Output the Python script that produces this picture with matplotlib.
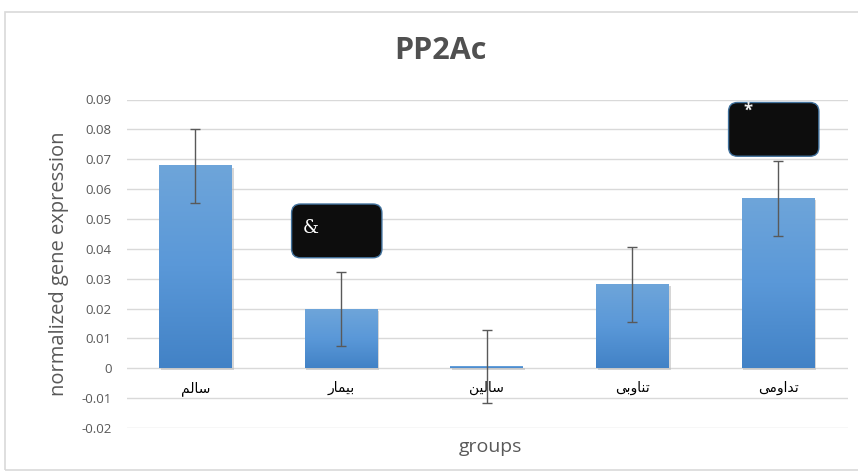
import matplotlib
matplotlib.use("Agg")
import matplotlib.pyplot as plt
import numpy as np
from matplotlib.patches import FancyBboxPatch, Rectangle
from matplotlib.colors import LinearSegmentedColormap

# ---- data ----
categories = ["سالم", "بیمار", "سالین", "تناوبی", "تداومی"]
values = [0.0678, 0.0197, 0.0006, 0.0281, 0.0569]
errors = [0.0123, 0.0124, 0.0122, 0.0125, 0.0125]
yticks = [-0.02, -0.01, 0, 0.01, 0.02, 0.03, 0.04, 0.05, 0.06, 0.07, 0.08, 0.09]
ytick_labels = ["-0.02", "-0.01", "0", "0.01", "0.02", "0.03", "0.04", "0.05",
                "0.06", "0.07", "0.08", "0.09"]
annotations = ["&", "*"]
annotation_cats = [1, 4]
annotation_boxes = [(0.055, 0.037), (0.089, 0.071)]  # (top, bottom) in data units

# ---- minimal Arabic-script shaping (matplotlib has no shaping) ----
FORMS = {
    "ا": (0xFE8D, 0xFE8E, None, None),
    "ب": (0xFE8F, 0xFE90, 0xFE91, 0xFE92),
    "ت": (0xFE95, 0xFE96, 0xFE97, 0xFE98),
    "د": (0xFEA9, 0xFEAA, None, None),
    "ر": (0xFEAD, 0xFEAE, None, None),
    "س": (0xFEB1, 0xFEB2, 0xFEB3, 0xFEB4),
    "ل": (0xFEDD, 0xFEDE, 0xFEDF, 0xFEE0),
    "م": (0xFEE1, 0xFEE2, 0xFEE3, 0xFEE4),
    "ن": (0xFEE5, 0xFEE6, 0xFEE7, 0xFEE8),
    "و": (0xFEED, 0xFEEE, None, None),
    "ی": (0xFBFC, 0xFBFD, 0xFBFE, 0xFBFF),
}


def shape(word):
    out = []
    n = len(word)
    for i, ch in enumerate(word):
        f = FORMS.get(ch)
        if f is None:
            out.append(ch)
            continue
        prev = FORMS.get(word[i - 1]) if i > 0 else None
        nxt = FORMS.get(word[i + 1]) if i < n - 1 else None
        jp = prev is not None and prev[2] is not None
        jn = nxt is not None and f[2] is not None
        if jp and jn:
            cp = f[3]
        elif jp:
            cp = f[1]
        elif jn:
            cp = f[2]
        else:
            cp = f[0]
        out.append(chr(cp))
    return "".join(reversed(out))


plt.rcParams["font.family"] = ["Open Sans", "DejaVu Sans"]

W, H = 858, 475
fig = plt.figure(figsize=(W / 100, H / 100), dpi=100)
ax = fig.add_axes([127 / W, 1 - 428 / H, 721 / W, 328.5 / H])

# outer chart border
fig.patches.append(Rectangle((5 / W, 5 / H), 860 / W, 458 / H,
                             transform=fig.transFigure, fill=False,
                             edgecolor="#D9D9D9", linewidth=1.2, zorder=0))

x = np.arange(len(categories))
bars = ax.bar(x, values, width=0.5, color="#5B9BD5", zorder=2)

cmap = LinearSegmentedColormap.from_list("g", ["#4282C6", "#5A98D8", "#6EA5DA"])
grad = np.linspace(0, 1, 256).reshape(-1, 1)
for b in bars:
    x0, y0, w, h = b.get_x(), b.get_y(), b.get_width(), b.get_height()
    b.set_facecolor("none")
    b.set_edgecolor("none")
    ax.add_patch(Rectangle((x0 + 0.012, y0 - 0.0006), w, h, facecolor="#BBBBBB",
                           edgecolor="none", alpha=0.6, zorder=1.5))
    ax.imshow(grad, extent=(x0, x0 + w, y0, y0 + h), origin="lower",
              cmap=cmap, aspect="auto", zorder=2)

ax.errorbar(x, values, yerr=errors, fmt="none", ecolor="#595959",
            elinewidth=1.0, capsize=3.5, capthick=1.0, zorder=3)

ax.set_xlim(-0.47, 4.48)
ax.set_ylim(-0.02, 0.09)

# data units per pixel for rounded corners
xpp = (4.48 + 0.47) / 721
ypp = 0.11 / 328.5
for label, ci, (top, bot) in zip(annotations, annotation_cats, annotation_boxes):
    bx0 = ci - 0.34
    bw = 0.62
    box = FancyBboxPatch((bx0, bot), bw, top - bot,
                         boxstyle="round,pad=0,rounding_size=%f" % (9 * xpp),
                         mutation_aspect=ypp / xpp,
                         facecolor="#0D0D0D", edgecolor="#41719C",
                         linewidth=1.0, zorder=4)
    ax.add_patch(box)
    if label == "&":
        ax.text(bx0 + 0.08, top - (top - bot) * 0.45, label, color="white",
                fontsize=13, family="DejaVu Serif", va="center", ha="left",
                zorder=5)
    else:
        ax.text(bx0 + 0.1, top - 0.0029, label, color="#EEEEEE",
                fontsize=12, fontweight="bold", va="center", ha="left",
                zorder=5)

ax.set_yticks(yticks)
ax.set_yticklabels(ytick_labels)
ax.set_xticks(x)
ax.set_xticklabels([shape(c) for c in categories], family="DejaVu Sans",
                   fontsize=9, color="#595959")
ax.spines["bottom"].set_position(("data", 0))
ax.tick_params(axis="x", length=0, pad=9)
ax.tick_params(axis="y", length=0, labelsize=9.5, labelcolor="#595959", pad=11)
ax.grid(axis="y", color="#D9D9D9", linewidth=1.0, zorder=0)
ax.set_axisbelow(True)
for s in ax.spines.values():
    s.set_visible(False)

ax.set_ylabel("normalized gene expression", fontsize=14.5, color="#595959",
              labelpad=9)
fig.text(490 / W, 1 - 447 / H, "groups", ha="center", va="center",
         fontsize=14, color="#595959")
fig.text(440 / W, 1 - 51 / H, "PP2Ac", ha="center", va="center", fontsize=22,
         fontweight="bold", color="#505050")

fig.savefig("out.png", dpi=100)
